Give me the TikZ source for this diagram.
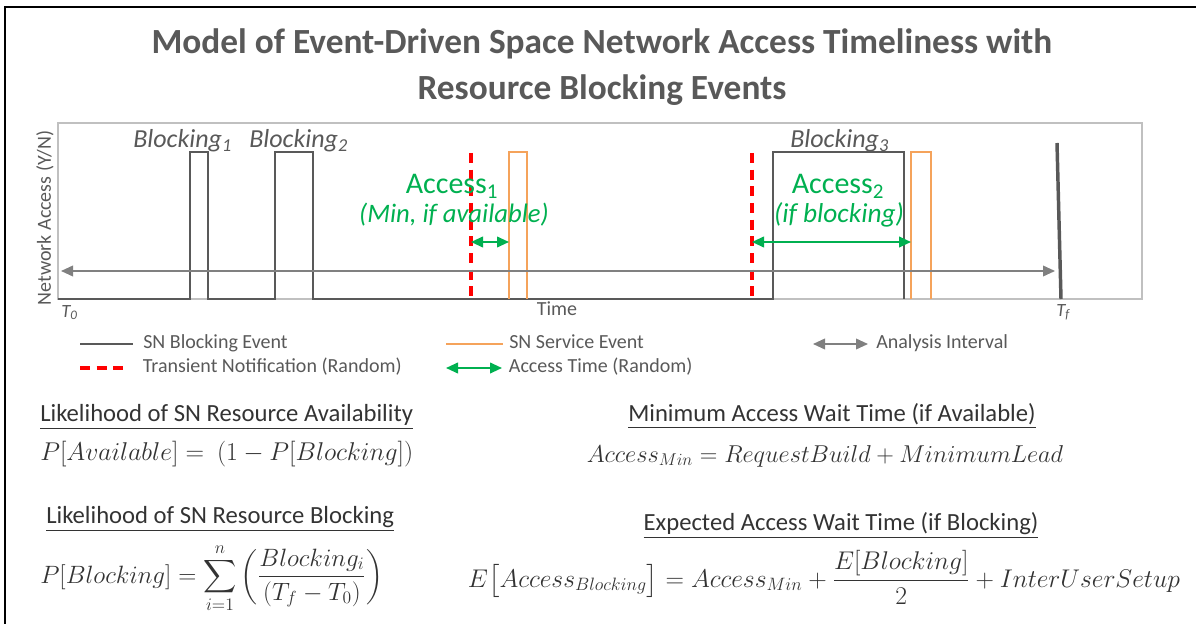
\RequirePackage{fix-cm}
\documentclass[tikz,border=0pt]{standalone}
\usepackage{amsmath}
\usepackage{fontspec}
\setmainfont{Carlito}
\usetikzlibrary{positioning,arrows.meta}
\definecolor{txtgray}{HTML}{595959}
\definecolor{eqgray}{HTML}{333333}
\definecolor{framegray}{HTML}{C0C0C0}
\definecolor{arrowgray}{HTML}{808080}
\definecolor{accessgreen}{HTML}{00B050}
\definecolor{serviceorange}{HTML}{F5A35B}
\newcommand{\fsz}[1]{\fontsize{#1}{1.2\dimexpr #1pt\relax}\selectfont}

\tikzset{
	blockline/.style={draw=txtgray, line width=1.4pt},
	serviceline/.style={draw=serviceorange, line width=1.1pt},
	notifyline/.style={draw=red, line width=2.5pt, dash pattern=on 7.5pt off 5pt},
	accessarrow/.style={draw=accessgreen, line width=1.4pt, {Triangle[length=9pt,width=8pt]}-{Triangle[length=9pt,width=8pt]}},
	intervalarrow/.style={draw=arrowgray, line width=1.2pt, {Triangle[length=9pt,width=8pt]}-{Triangle[length=9pt,width=8pt]}},
	plotlabel/.style={text=txtgray, inner sep=0pt, font=\fsz{19.5}\itshape},
	accesslabel/.style={text=accessgreen, inner sep=0pt},
	axislabel/.style={text=txtgray, inner sep=0pt, font=\fsz{15}},
	legtext/.style={text=txtgray, inner sep=0pt, font=\fsz{15}, text height=1.6ex, text depth=0.3ex},
	heading/.style={text=eqgray, inner sep=0pt, font=\fsz{18.5}},
	eqn/.style={text=eqgray, inner sep=0pt},
}

\begin{document}
\begin{tikzpicture}[x=0.75pt, y=-0.75pt]
	\useasboundingbox (0,0) rectangle (1196,624);
	\draw[line width=1.6pt] (5,630) -- (5,7) -- (1200,7);
	%
	\node[text=txtgray, font=\fontsize{26.5}{34}\selectfont\bfseries, align=center] (title) at (602,67)
		{Model of Event-Driven Space Network Access Timeliness with\\Resource Blocking Events};
	%
	\draw[framegray, line width=1.5pt] (58,123) rectangle (1142,299);
	\draw[blockline] (58,299) -- (190,299) -- (190,152) -- (208,152) -- (208,299)
		-- (275,299) -- (275,152) -- (313,152) -- (313,299)
		-- (773,299) -- (773,152) -- (904,152) -- (904,299);
	\draw[serviceline] (509,299) -- (509,152) -- (527,152) -- (527,299);
	\draw[serviceline] (911,299) -- (911,152) -- (931,152) -- (931,299);
	\coordinate (notify1) at (471,242);
	\coordinate (notify2) at (752,242);
	\coordinate (service1) at (509,242);
	\coordinate (service2) at (911,242);
	\draw[notifyline] (471,153) -- (471,299);
	\draw[notifyline] (752,153) -- (752,299);
	\draw[accessarrow] (notify1) -- (service1);
	\draw[accessarrow] (notify2) -- (service2);
	\coordinate (t0) at (61,271);
	\coordinate (tf) at (1055,271);
	\draw[intervalarrow] (t0) -- (tf);
	\draw[draw=txtgray, line width=2.6pt] (1057,143) -- (1061,299);
	%
	\node[plotlabel, anchor=base west] (block1) at (133,148) {Blocking\textsubscript{1}};
	\node[plotlabel, anchor=base west] (block2) at (249,148) {Blocking\textsubscript{2}};
	\node[plotlabel, anchor=base west] (block3) at (790,148) {Blocking\textsubscript{3}};
	\node[accesslabel, font=\fsz{22.5}, anchor=base] (access1) at (452,194) {Access\textsubscript{1}};
	\node[accesslabel, font=\fsz{20}\itshape, anchor=base] (access1note) at (454,223) {(Min, if available)};
	\node[accesslabel, font=\fsz{22.5}, anchor=base] (access2) at (838,194) {Access\textsubscript{2}};
	\node[accesslabel, font=\fsz{20.5}\itshape, anchor=base] (access2note) at (839,223) {(if blocking)};
	\node[axislabel, rotate=90] (yaxis) at (45,218) {Network Access (Y/N)};
	\node[axislabel, anchor=base] (xaxis) at (557,315) {Time};
	\node[axislabel, font=\fsz{14}\itshape, anchor=base west] (tzero) at (61,317) {T\textsubscript{0}};
	\node[axislabel, font=\fsz{14}\itshape, anchor=base west] (tfinal) at (1056,316) {T\textsubscript{f}};
	%
	\coordinate (lgblockA) at (80,344);  \coordinate (lgblockB) at (133,344);
	\coordinate (lgnotifyA) at (80,368); \coordinate (lgnotifyB) at (128,368);
	\coordinate (lgserviceA) at (446,344); \coordinate (lgserviceB) at (503,344);
	\coordinate (lgaccessA) at (446,368); \coordinate (lgaccessB) at (502,368);
	\coordinate (lgintervalA) at (813,344); \coordinate (lgintervalB) at (868,344);
	\draw[blockline, line width=1pt] (lgblockA) -- (lgblockB);
	\draw[notifyline] (lgnotifyA) -- (lgnotifyB);
	\draw[serviceline] (lgserviceA) -- (lgserviceB);
	\draw[accessarrow] (lgaccessA) -- (lgaccessB);
	\draw[intervalarrow] (lgintervalA) -- (lgintervalB);
	\node[legtext, right=7.5pt of lgblockB] (lgblock) {SN Blocking Event};
	\node[legtext, right=11pt of lgnotifyB] (lgnotify) {Transient Notification (Random)};
	\node[legtext, right=4.5pt of lgserviceB] (lgservice) {SN Service Event};
	\node[legtext, right=5pt of lgaccessB] (lgaccess) {Access Time (Random)};
	\node[legtext, right=6pt of lgintervalB] (lginterval) {Analysis Interval};
	%
	\node[heading, anchor=base west] (availhead) at (40,421) {\underline{Likelihood of SN Resource Availability}};
	\node[eqn, font=\fsz{19.3}, anchor=base west] (availeq) at (40,460) {$P[Available] =\ (1 - P[Blocking])$};
	\node[heading, anchor=base west] (blockhead) at (46,523) {\underline{Likelihood of SN Resource Blocking}};
	\node[eqn, font=\fsz{18.8}, anchor=base west] (blockeq) at (40,583)
		{$\displaystyle P[Blocking] = \sum_{i=1}^{n}\left(\frac{Blocking_i}{\left(T_f - T_0\right)}\right)$};
	\node[heading, anchor=base] (minhead) at (832,421) {\underline{Minimum Access Wait Time (if Available)}};
	\node[eqn, font=\fsz{18.3}, anchor=base] (mineq) at (825,462) {$Access_{Min} = RequestBuild + MinimumLead$};
	\node[heading, anchor=base] (exphead) at (841,530) {\underline{Expected Access Wait Time (if Blocking)}};
	\node[eqn, font=\fsz{19.2}, anchor=base] (expeq) at (824,587)
		{$\displaystyle E\bigl[Access_{Blocking}\bigr] = Access_{Min} + \frac{E[Blocking]}{2} + InterUserSetup$};
\end{tikzpicture}
\end{document}
